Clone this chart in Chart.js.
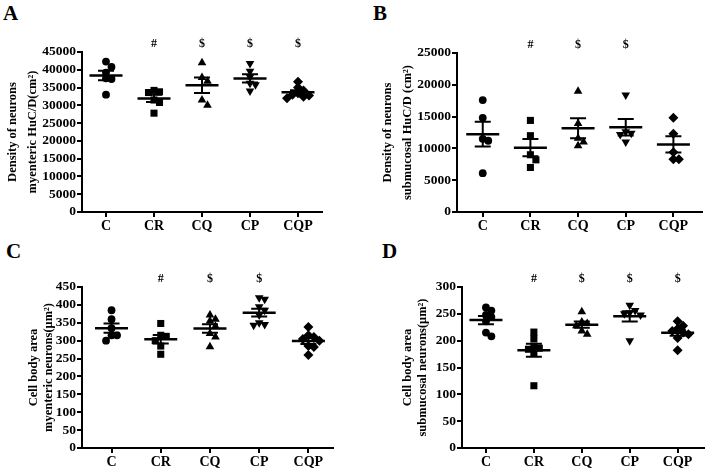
<!DOCTYPE html>
<html>
<head>
<meta charset="utf-8">
<script src="https://cdn.jsdelivr.net/npm/chart.js@4.4.1/dist/chart.umd.min.js"></script>
<style>
    body { margin: 0; background: #fff; }
    #wrap { position: relative; width: 709px; height: 469px; overflow: hidden; }
    canvas { position: absolute; }
    .letter { position: absolute; font: bold 21px 'Liberation Serif', 'Times New Roman', serif; color: #000; }
</style>
</head>
<body>
<div id="wrap">
    <div class="letter" style="left:3px;top:1px;">A</div>
    <div class="letter" style="left:373px;top:1px;">B</div>
    <div class="letter" style="left:6px;top:239px;">C</div>
    <div class="letter" style="left:382px;top:239px;">D</div>
    <canvas id="chartA" width="355" height="235" style="left:0;top:0;"></canvas>
    <canvas id="chartB" width="354" height="235" style="left:355px;top:0;"></canvas>
    <canvas id="chartC" width="355" height="234" style="left:0;top:235px;"></canvas>
    <canvas id="chartD" width="354" height="234" style="left:355px;top:235px;"></canvas>
</div>
<script>
// Groups
const groups = ['C', 'CR', 'CQ', 'CP', 'CQP'];
const markers = ['circle', 'rect', 'triangle', 'triangle', 'rectRot'];
const markerRot = [0, 0, 0, 180, 0];

// A - density of myenteric neurons HuC/D (cm2)
const myDensC = [42300, 40800, 39200, 37600, 37400, 33000];
const myDensCR = [34200, 33800, 33600, 31500, 30800, 27800];
const myDensCQ = [42000, 37800, 36800, 31500, 30000];
const myDensCP = [41800, 39600, 38000, 36200, 35800, 34000];
const myDensCQP = [36600, 35000, 34200, 33400, 33000, 32800, 32400, 32000];
const sigA = ['', '#', '$', '$', '$'];

// B - density of submucosal neurons HuC/D (cm2)
const smDensC = [17600, 14800, 11500, 11200, 6100];
const smDensCR = [14400, 12000, 9000, 8200, 7000];
const smDensCQ = [19000, 13900, 11600, 11000, 10400];
const smDensCP = [18400, 12600, 12400, 12200, 11000];
const smDensCQP = [14800, 12300, 9400, 8300, 8300];
const sigB = ['', '#', '$', '$', ''];

// C - cell body area, myenteric neurons (um2)
const myAreaC = [385, 360, 335, 315, 315, 300];
const myAreaCR = [348, 315, 312, 300, 285, 262];
const myAreaCQ = [372, 360, 355, 340, 320, 310, 283];
const myAreaCP = [420, 416, 395, 385, 372, 350, 345, 343];
const myAreaCQP = [338, 315, 310, 305, 300, 285, 282, 260];
const sigC = ['', '#', '$', '$', ''];

// D - cell body area, submucosal neurons (um2)
const smAreaC = [262, 256, 248, 244, 236, 215, 208];
const smAreaCR = [216, 204, 190, 186, 184, 178, 116];
const smAreaCQ = [254, 235, 232, 228, 218, 212];
const smAreaCP = [266, 256, 252, 250, 248, 200];
const smAreaCQP = [236, 228, 222, 218, 215, 212, 205, 182];
const sigD = ['', '#', '$', '$', '$'];

const serif = "'Liberation Serif', 'Times New Roman', serif";

// spread points of one group sideways so they don't pile up (dot plot)
function swarm(values, yPerPx, xPerPx) {
    const diam = 5.5;
    const placed = [];
    return values.map(v => {
        const py = v / yPerPx;
        for (let k = 0; k < 40; k++) {
            const off = (k === 0 ? 0 : (k % 2 ? 1 : -1) * Math.ceil(k / 2)) * diam;
            if (placed.every(p => Math.hypot(p.x - off, p.y - py) >= diam)) {
                placed.push({ x: off, y: py });
                return off * xPerPx;
            }
        }
        return 0;
    });
}

function meanSem(arr) {
    const n = arr.length;
    const m = arr.reduce((a, b) => a + b, 0) / n;
    const sd = Math.sqrt(arr.reduce((a, b) => a + (b - m) * (b - m), 0) / (n - 1));
    return { mean: m, sem: sd / Math.sqrt(n) };
}

// mean line + SEM whiskers
const meanSemPlugin = {
    id: 'meanSem',
    afterDatasetsDraw(chart, args, opts) {
        if (!opts.values) return;
        const ctx = chart.ctx;
        const xs = chart.scales.x, ys = chart.scales.y;
        ctx.save();
        ctx.strokeStyle = '#000';
        opts.values.forEach((vals, i) => {
            const s = meanSem(vals);
            const x = xs.getPixelForValue(i);
            const yM = ys.getPixelForValue(s.mean);
            const yHi = ys.getPixelForValue(s.mean + s.sem);
            const yLo = ys.getPixelForValue(s.mean - s.sem);
            ctx.lineWidth = 2.5;
            ctx.beginPath();
            ctx.moveTo(x - 16.5, yM); ctx.lineTo(x + 16.5, yM);
            ctx.stroke();
            ctx.lineWidth = 2;
            ctx.beginPath();
            ctx.moveTo(x, yHi); ctx.lineTo(x, yLo);
            ctx.moveTo(x - 8, yHi); ctx.lineTo(x + 8, yHi);
            ctx.moveTo(x - 8, yLo); ctx.lineTo(x + 8, yLo);
            ctx.stroke();
        });
        ctx.restore();
    }
};

// # and $ marks above the groups
const sigPlugin = {
    id: 'sigMarks',
    afterDraw(chart, args, opts) {
        if (!opts.marks) return;
        const ctx = chart.ctx;
        ctx.save();
        ctx.fillStyle = '#000';
        ctx.font = 'bold 12px ' + serif;
        ctx.textAlign = 'center';
        ctx.textBaseline = 'middle';
        opts.marks.forEach((s, i) => {
            if (s) ctx.fillText(s, chart.scales.x.getPixelForValue(i), chart.chartArea.top - 8.5);
        });
        ctx.restore();
    }
};

function makeChart(id, values, sig, cfg) {
    const plotW = cfg.width - cfg.yAxisW - cfg.padRight;
    const plotH = cfg.height - cfg.padTop - cfg.xAxisH;
    const yPerPx = cfg.yMax / plotH;
    const xPerPx = (cfg.xMax - cfg.xMin) / plotW;

    const datasets = values.map((vals, i) => {
        const offs = swarm(vals, yPerPx, xPerPx);
        return {
            data: vals.map((v, k) => ({ x: i + offs[k], y: v })),
            pointStyle: markers[i],
            rotation: markerRot[i],
            pointRadius: markers[i] === 'circle' ? 3.9 : 5,
            backgroundColor: '#000',
            borderColor: '#000',
            borderWidth: 0
        };
    });

    return new Chart(document.getElementById(id), {
        type: 'scatter',
        data: { datasets },
        options: {
            responsive: false,
            animation: false,
            layout: { padding: { top: cfg.padTop, right: cfg.padRight, left: 0, bottom: 0 } },
            plugins: {
                legend: { display: false },
                tooltip: { enabled: false },
                meanSem: { values: values },
                sigMarks: { marks: sig }
            },
            scales: {
                x: {
                    type: 'linear',
                    min: cfg.xMin,
                    max: cfg.xMax,
                    afterBuildTicks: s => { s.ticks = groups.map((g, i) => ({ value: i })); },
                    afterFit: s => { s.height = cfg.xAxisH; },
                    ticks: {
                        callback: v => groups[v],
                        color: '#000',
                        font: { family: serif, size: 14, weight: 'bold' },
                        padding: 1,
                        maxRotation: 0,
                        autoSkip: false
                    },
                    grid: { drawOnChartArea: false, tickLength: 5, color: '#000', lineWidth: 2 },
                    border: { color: '#000', width: 2 }
                },
                y: {
                    min: 0,
                    max: cfg.yMax,
                    afterFit: s => { s.width = cfg.yAxisW; },
                    ticks: {
                        stepSize: cfg.step,
                        autoSkip: false,
                        callback: v => String(v),
                        color: '#000',
                        font: { family: serif, size: 13.5, weight: 'bold' },
                        padding: 1
                    },
                    grid: { drawOnChartArea: false, tickLength: 5, color: '#000', lineWidth: 2 },
                    border: { color: '#000', width: 2 },
                    title: {
                        display: true,
                        text: cfg.title,
                        color: '#000',
                        font: { family: serif, size: 12.5, weight: 'bold', lineHeight: cfg.titleLH },
                        padding: { top: cfg.titlePad, bottom: 0 }
                    }
                }
            }
        },
        plugins: [meanSemPlugin, sigPlugin]
    });
}

makeChart('chartA', [myDensC, myDensCR, myDensCQ, myDensCP, myDensCQP], sigA, {
    width: 355, height: 235, padTop: 52, padRight: 33, xAxisH: 23, yAxisW: 82,
    xMin: -0.5, xMax: 4.5, yMax: 45000, step: 5000,
    title: ['Density of neurons', 'myenteric HuC/D(cm²)'], titleLH: 1.6, titlePad: 3
});
makeChart('chartB', [smDensC, smDensCR, smDensCQ, smDensCP, smDensCQP], sigB, {
    width: 354, height: 235, padTop: 53, padRight: 7, xAxisH: 23, yAxisW: 102,
    xMin: -0.54, xMax: 4.6, yMax: 25000, step: 5000,
    title: ['Density of neurons', 'submucosal HuC/D (cm²)'], titleLH: 1.6, titlePad: 23
});
makeChart('chartC', [myAreaC, myAreaCR, myAreaCQ, myAreaCP, myAreaCQP], sigC, {
    width: 355, height: 234, padTop: 52, padRight: 22, xAxisH: 21, yAxisW: 82,
    xMin: -0.6, xMax: 4.5, yMax: 450, step: 50,
    title: ['Cell body area', 'myenteric neurons(μm²)'], titleLH: 1.2, titlePad: 26
});
makeChart('chartD', [smAreaC, smAreaCR, smAreaCQ, smAreaCP, smAreaCQP], sigD, {
    width: 354, height: 234, padTop: 52, padRight: 1, xAxisH: 21, yAxisW: 107,
    xMin: -0.5, xMax: 4.55, yMax: 300, step: 50,
    title: ['Cell body area', 'submucosal neurons(μm²)'], titleLH: 1.2, titlePad: 45
});
</script>
</body>
</html>
